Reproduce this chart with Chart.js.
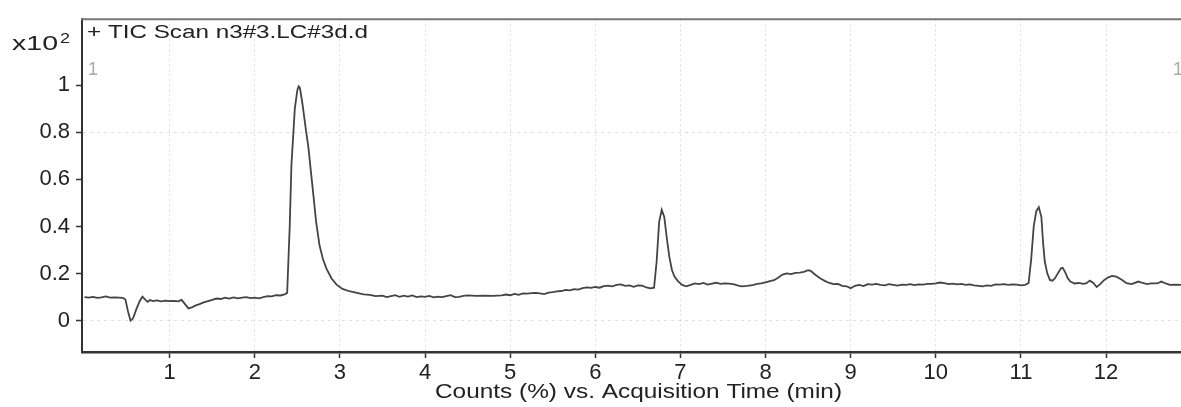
<!DOCTYPE html>
<html>
<head>
<meta charset="utf-8">
<script src="https://cdn.jsdelivr.net/npm/chart.js@4.4.1/dist/chart.umd.min.js"></script>
<style>
html,body{margin:0;padding:0;background:#fff;}
#wrap{width:1181px;height:407px;}
</style>
</head>
<body>
<div id="wrap"><canvas id="c" width="1181" height="407"></canvas></div>
<script>
// Acquisition time (min)
const times = [0.00,0.05,0.10,0.15,0.20,0.25,0.30,0.35,0.40,0.45,0.48,0.51,0.54,0.57,0.61,0.65,0.68,0.71,0.74,0.77,0.80,0.85,0.90,0.95,1.00,1.05,1.10,1.14,1.18,1.22,1.26,1.30,1.35,1.40,1.45,1.50,1.55,1.60,1.65,1.70,1.75,1.80,1.85,1.90,1.95,2.00,2.05,2.10,2.15,2.20,2.25,2.30,2.35,2.38,2.41,2.43,2.47,2.50,2.515,2.53,2.56,2.60,2.63,2.66,2.69,2.72,2.76,2.80,2.84,2.90,2.96,3.03,3.11,3.20,3.28,3.35,3.42,3.50,3.55,3.60,3.65,3.70,3.75,3.80,3.85,3.90,3.95,4.00,4.05,4.10,4.15,4.20,4.25,4.30,4.35,4.40,4.45,4.50,4.60,4.70,4.80,4.90,4.95,5.00,5.05,5.10,5.15,5.20,5.25,5.30,5.35,5.40,5.45,5.50,5.55,5.60,5.65,5.70,5.75,5.80,5.85,5.90,5.95,6.00,6.05,6.10,6.15,6.20,6.25,6.30,6.35,6.40,6.45,6.50,6.55,6.60,6.65,6.69,6.72,6.75,6.78,6.81,6.84,6.87,6.90,6.93,6.97,7.02,7.07,7.12,7.17,7.22,7.27,7.32,7.37,7.42,7.47,7.52,7.57,7.62,7.67,7.72,7.78,7.85,7.90,7.95,8.01,8.05,8.10,8.15,8.20,8.25,8.30,8.35,8.40,8.45,8.50,8.53,8.58,8.64,8.70,8.75,8.80,8.85,8.90,8.95,9.00,9.05,9.10,9.15,9.20,9.25,9.30,9.35,9.40,9.45,9.50,9.55,9.60,9.65,9.70,9.75,9.80,9.85,9.90,9.95,10.00,10.05,10.10,10.15,10.20,10.25,10.30,10.35,10.40,10.45,10.50,10.55,10.60,10.65,10.70,10.75,10.80,10.85,10.90,10.95,11.00,11.05,11.09,11.12,11.15,11.18,11.21,11.24,11.26,11.28,11.31,11.34,11.37,11.40,11.44,11.47,11.49,11.52,11.55,11.58,11.63,11.68,11.73,11.77,11.81,11.85,11.89,11.93,11.97,12.02,12.07,12.12,12.18,12.24,12.30,12.38,12.43,12.48,12.53,12.60,12.65,12.70,12.75,12.82,12.88];
// Counts (x10^2 %)
const counts = [0.100,0.098,0.101,0.097,0.099,0.103,0.098,0.099,0.098,0.097,0.090,0.040,0.000,0.010,0.050,0.085,0.102,0.090,0.080,0.088,0.083,0.086,0.082,0.085,0.083,0.084,0.082,0.088,0.070,0.052,0.056,0.064,0.070,0.078,0.083,0.088,0.094,0.092,0.098,0.094,0.099,0.095,0.098,0.100,0.096,0.098,0.095,0.100,0.104,0.103,0.108,0.107,0.112,0.118,0.40,0.66,0.90,0.980,0.995,0.988,0.92,0.81,0.735,0.63,0.527,0.42,0.320,0.262,0.222,0.180,0.153,0.135,0.125,0.118,0.112,0.110,0.104,0.106,0.100,0.104,0.108,0.101,0.106,0.102,0.107,0.100,0.103,0.101,0.105,0.099,0.102,0.100,0.104,0.108,0.100,0.101,0.105,0.107,0.105,0.106,0.105,0.107,0.111,0.108,0.114,0.110,0.116,0.115,0.117,0.118,0.116,0.113,0.119,0.121,0.124,0.126,0.131,0.129,0.134,0.132,0.138,0.141,0.139,0.143,0.140,0.147,0.149,0.146,0.152,0.154,0.148,0.150,0.144,0.150,0.149,0.141,0.137,0.140,0.25,0.42,0.471,0.44,0.35,0.27,0.215,0.187,0.168,0.152,0.146,0.152,0.158,0.155,0.160,0.153,0.157,0.161,0.156,0.158,0.157,0.155,0.150,0.146,0.148,0.151,0.156,0.158,0.164,0.168,0.172,0.183,0.196,0.201,0.198,0.203,0.204,0.207,0.214,0.212,0.196,0.180,0.168,0.160,0.155,0.156,0.148,0.146,0.138,0.148,0.152,0.147,0.155,0.153,0.156,0.152,0.150,0.155,0.152,0.149,0.153,0.152,0.155,0.151,0.154,0.153,0.156,0.156,0.158,0.162,0.159,0.155,0.157,0.154,0.156,0.152,0.154,0.150,0.148,0.146,0.150,0.148,0.154,0.153,0.155,0.152,0.154,0.153,0.150,0.152,0.160,0.26,0.40,0.465,0.482,0.44,0.33,0.25,0.20,0.173,0.170,0.180,0.205,0.222,0.224,0.205,0.180,0.166,0.158,0.160,0.156,0.159,0.170,0.160,0.143,0.155,0.170,0.183,0.190,0.187,0.175,0.159,0.155,0.166,0.160,0.155,0.158,0.158,0.166,0.158,0.152,0.153,0.152];
const xTicks = [1,2,3,4,5,6,7,8,9,10,11,12];
const yTicks = [0,0.2,0.4,0.6,0.8,1];
const yTickLabels = ['0','0.2','0.4','0.6','0.8','1'];
const yGridShown = [0,0.8];
const xTitle = 'Counts (%) vs. Acquisition Time (min)';
const traceLabel = '+ TIC Scan n3#3.LC#3d.d';

const FONT = "Arial, 'Liberation Sans', sans-serif";

// draw text stretched horizontally to a target width
function stretchText(ctx, text, x, y, targetWidth, align) {
  const w = ctx.measureText(text).width;
  const sx = targetWidth / w;
  ctx.save();
  let left = x;
  if (align === 'center') left = x - targetWidth / 2;
  ctx.translate(left, y);
  ctx.scale(sx, 1);
  ctx.textAlign = 'left';
  ctx.fillText(text, 0, 0);
  ctx.restore();
}

const overlay = {
  id: 'overlay',
  afterDraw(chart) {
    const ctx = chart.ctx, a = chart.chartArea;
    ctx.save();
    // top border
    ctx.strokeStyle = '#777';
    ctx.lineWidth = 2;
    ctx.beginPath();
    ctx.moveTo(a.left - 1, a.top);
    ctx.lineTo(a.right, a.top);
    ctx.stroke();
    ctx.fillStyle = '#222';
    ctx.textBaseline = 'alphabetic';
    ctx.font = '21px ' + FONT;
    stretchText(ctx, 'x10', 12, 50, 46, 'left');
    ctx.font = '15px ' + FONT;
    stretchText(ctx, '2', 60, 43, 10, 'left');
    ctx.font = '18px ' + FONT;
    stretchText(ctx, traceLabel, 87, 38, 281, 'left');
    ctx.fillStyle = '#aaa';
    ctx.font = '18px ' + FONT;
    ctx.fillText('1', 88, 75);
    ctx.fillText('1', 1173, 75);
    ctx.fillStyle = '#222';
    ctx.font = '21px ' + FONT;
    stretchText(ctx, xTitle, 638.5, 398, 407, 'center');
    ctx.restore();
  }
};

new Chart(document.getElementById('c'), {
  type: 'line',
  data: {
    datasets: [{
      data: times.map((t, i) => ({x: t, y: counts[i]})),
      borderColor: '#444',
      borderWidth: 1.8,
      pointRadius: 0,
      tension: 0,
      fill: false
    }]
  },
  options: {
    responsive: false,
    animation: false,
    events: [],
    layout: {padding: {top: 12, left: 0, right: 0, bottom: 0}},
    plugins: {legend: {display: false}, tooltip: {enabled: false}},
    scales: {
      x: {
        type: 'linear',
        min: -0.03,
        max: 12.88,
        afterBuildTicks: s => { s.ticks = xTicks.map(v => ({value: v})); },
        afterFit: s => { s.height = 55; },
        ticks: {
          color: '#222',
          font: {family: FONT, size: 22},
          padding: 2,
          maxRotation: 0,
          autoSkip: false,
          callback: v => String(v)
        },
        grid: {
          color: 'rgba(0,0,0,0.13)',
          lineWidth: 1,
          drawTicks: true,
          tickLength: 6,
          tickColor: '#333',
          tickWidth: 1.5
        },
        border: {display: true, color: '#333', width: 2.5, dash: [2, 3]}
      },
      y: {
        type: 'linear',
        min: -0.133,
        max: 1.28,
        afterBuildTicks: s => { s.ticks = yTicks.map(v => ({value: v})); },
        afterFit: s => { s.width = 82; },
        ticks: {
          color: '#222',
          font: {family: FONT, size: 22},
          padding: 6,
          autoSkip: false,
          callback: v => yTickLabels[yTicks.indexOf(Math.round(v * 10) / 10)] ?? ''
        },
        grid: {
          color: c => (c.tick && yGridShown.includes(Math.round(c.tick.value * 10) / 10)) ? 'rgba(0,0,0,0.12)' : 'rgba(0,0,0,0)',
          lineWidth: 1,
          drawTicks: true,
          tickLength: 6,
          tickColor: '#333',
          tickWidth: 1.5
        },
        border: {display: true, color: '#333', width: 2, dash: [3, 4]}
      }
    }
  },
  plugins: [overlay]
});
</script>
</body>
</html>
